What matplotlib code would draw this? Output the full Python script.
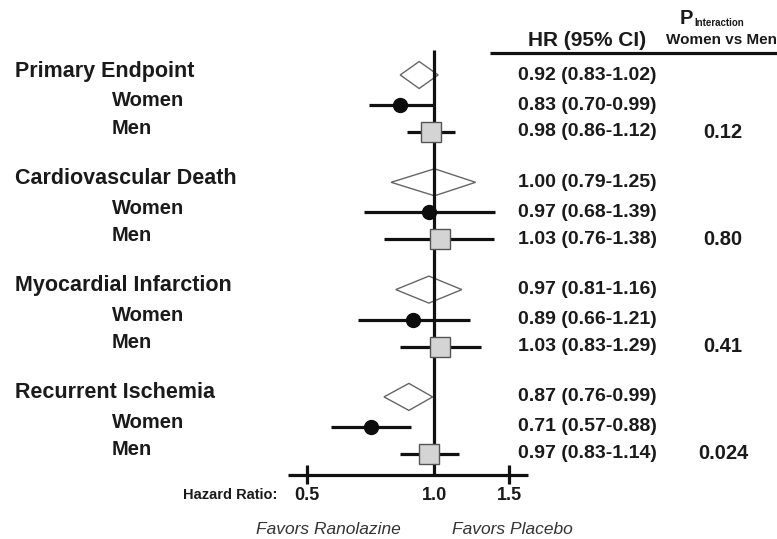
import numpy as np
import matplotlib
matplotlib.use("Agg")
import matplotlib.pyplot as plt
from matplotlib.patches import Polygon

plt.rcParams['font.family'] = ['Liberation Sans', 'DejaVu Sans']

# ---------------- data ----------------
groups = ["Primary Endpoint", "Cardiovascular Death", "Myocardial Infarction", "Recurrent Ischemia"]
sub_labels = ["Women", "Men"]
overall_hr = [0.92, 1.00, 0.97, 0.87]
overall_lo = [0.83, 0.79, 0.81, 0.76]
overall_hi = [1.02, 1.25, 1.16, 0.99]
women_hr = [0.83, 0.97, 0.89, 0.71]
women_lo = [0.70, 0.68, 0.66, 0.57]
women_hi = [0.99, 1.39, 1.21, 0.88]
men_hr = [0.98, 1.03, 1.03, 0.97]
men_lo = [0.86, 0.76, 0.83, 0.83]
men_hi = [1.12, 1.38, 1.29, 1.14]
p_interaction = ["0.12", "0.80", "0.41", "0.024"]
x_ticks = [0.5, 1.0, 1.5]
x_tick_labels = ["0.5", "1.0", "1.5"]

# ---------------- layout ----------------
W, H = 777, 539
fig = plt.figure(figsize=(W / 100, H / 100), dpi=100)
ax = fig.add_axes([0, 0, 1, 1])
ax.set_xscale('log')
# pixel mapping: px = 434.5 + 184 * ln(HR)
px0, scale = 434.5, 184.0
ax.set_xlim(np.exp((0 - px0) / scale), np.exp((W - px0) / scale))
ax.set_ylim(H, 0)
ax.axis('off')

def hr_at(px):
    return np.exp((px - px0) / scale)

def fx(px):
    return px / W

def fy(py):
    return 1 - py / H

ink = '#111111'
txt = '#1a1a1a'
lw_main = 2.3

group_start = [75 + i * 107.3 for i in range(len(groups))]
axis_y = 475

# reference line at HR = 1
ax.plot([1.0, 1.0], [50, axis_y], color=ink, lw=lw_main, solid_capstyle='butt', zorder=2)
# horizontal axis
ax.plot([hr_at(288), hr_at(528)], [axis_y, axis_y], color=ink, lw=lw_main, solid_capstyle='butt', zorder=2)
for t, lab in zip(x_ticks, x_tick_labels):
    if t != 1.0:
        ax.plot([t, t], [axis_y - 10, axis_y + 9], color=ink, lw=lw_main, solid_capstyle='butt')
    ax.text(t, 495, lab, ha='center', va='center', fontsize=13, fontweight='bold', color=txt)

fig.text(fx(277), fy(495), "Hazard Ratio:", ha='right', va='center', fontsize=10.5,
         fontweight='bold', color=txt)
fig.text(fx(328), fy(530), "Favors Ranolazine", ha='center', va='center', fontsize=12.5,
         style='italic', color='#333333')
fig.text(fx(452), fy(530), "Favors Placebo", ha='left', va='center', fontsize=12.5,
         style='italic', color='#333333')

# headers
fig.text(fx(587), fy(40), "HR (95% CI)", ha='center', va='center', fontsize=15,
         fontweight='bold', color=txt)
fig.text(fx(680), fy(19), "P", ha='left', va='center', fontsize=14.5, fontweight='bold', color=txt)
fig.text(fx(694), fy(23), "Interaction", ha='left', va='center', fontsize=7,
         fontweight='bold', color=txt)
fig.text(fx(722), fy(40), "Women vs Men", ha='center', va='center', fontsize=11,
         fontweight='bold', color=txt)
ax.plot([hr_at(490), hr_at(W)], [53, 53], color=ink, lw=lw_main, solid_capstyle='butt')

for i, g in enumerate(groups):
    y0 = group_start[i]
    yw = y0 + 30
    ym = y0 + 57

    # overall diamond
    diamond = Polygon([(overall_lo[i], y0), (overall_hr[i], y0 - 13.5),
                       (overall_hi[i], y0), (overall_hr[i], y0 + 13.5)],
                      closed=True, facecolor='white', edgecolor='#666666', lw=1.0, zorder=1)
    ax.add_patch(diamond)

    # women
    ax.plot([women_lo[i], women_hi[i]], [yw, yw], color=ink, lw=lw_main,
            solid_capstyle='butt', zorder=3)
    ax.plot([women_hr[i]], [yw], marker='o', markersize=10, color='#0d0d0d', zorder=4)

    # men
    ax.plot([men_lo[i], men_hi[i]], [ym, ym], color=ink, lw=lw_main,
            solid_capstyle='butt', zorder=3)
    ax.plot([men_hr[i]], [ym], marker='s', markersize=14.5, markerfacecolor='#d4d4d4',
            markeredgecolor='#555555', markeredgewidth=1.0, zorder=4)

    # left labels
    fig.text(fx(15), fy(y0 - 4), g, ha='left', va='center', fontsize=15.5,
             fontweight='bold', color=txt)
    fig.text(fx(112), fy(yw - 4), sub_labels[0], ha='left', va='center', fontsize=14.5,
             fontweight='bold', color=txt)
    fig.text(fx(112), fy(ym - 4), sub_labels[1], ha='left', va='center', fontsize=14.5,
             fontweight='bold', color=txt)

    # HR text
    for yy, h, lo, hi in [(y0, overall_hr[i], overall_lo[i], overall_hi[i]),
                          (yw, women_hr[i], women_lo[i], women_hi[i]),
                          (ym, men_hr[i], men_lo[i], men_hi[i])]:
        fig.text(fx(587), fy(yy), f"{h:.2f} ({lo:.2f}-{hi:.2f})", ha='center', va='center',
                 fontsize=14, fontweight='bold', color=txt)

    # p interaction
    fig.text(fx(723), fy(ym), p_interaction[i], ha='center', va='center', fontsize=14.5,
             fontweight='bold', color=txt)

fig.savefig("out.png", dpi=100)
